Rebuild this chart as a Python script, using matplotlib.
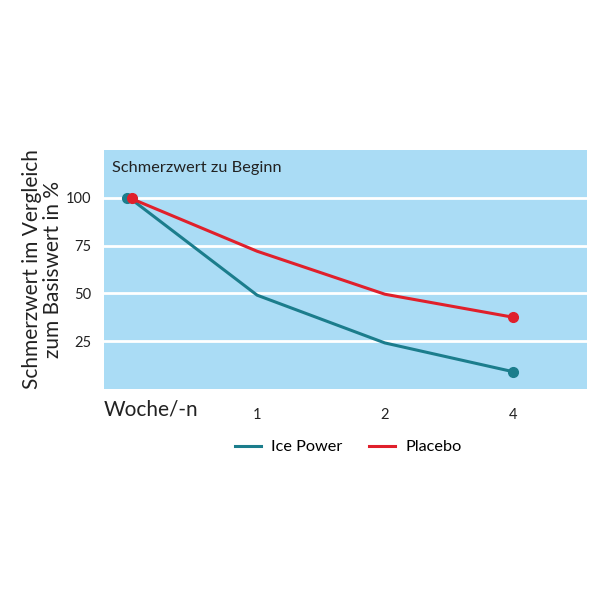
import matplotlib
matplotlib.use("Agg")
import matplotlib.pyplot as plt
import matplotlib.transforms as mtransforms

plt.rcParams["font.family"] = ["Lato", "DejaVu Sans"]

# data
weeks = ["", "1", "2", "4"]
ice_power = [100, 49, 24, 9]
placebo = [100, 72, 49.5, 37.5]
yticks = [25, 50, 75, 100]

BG = "#aadcf5"
BLUE = "#1b7d8c"
RED = "#e0202b"
TEXT = "#222222"

fig = plt.figure(figsize=(6, 6), dpi=100)
ax = fig.add_axes([0.173, 0.352, 0.805, 0.398])
ax.set_facecolor(BG)
for s in ax.spines.values():
    s.set_visible(False)

x = list(range(len(weeks)))
ax.plot(x, ice_power, color=BLUE, lw=2.2, label="Ice Power", zorder=3)
ax.plot(x, placebo, color=RED, lw=2.2, label="Placebo", zorder=4)

# end-point markers; start markers slightly offset like in the original
off_l = ax.transData + mtransforms.ScaledTranslation(-2 / 72, 0, fig.dpi_scale_trans)
off_r = ax.transData + mtransforms.ScaledTranslation(2 / 72, 0, fig.dpi_scale_trans)
ax.plot(x[0], ice_power[0], "o", color=BLUE, ms=7, zorder=5, transform=off_l)
ax.plot(x[0], placebo[0], "o", color=RED, ms=7, zorder=6, transform=off_r)
ax.plot(x[-1], ice_power[-1], "o", color=BLUE, ms=7, zorder=5)
ax.plot(x[-1], placebo[-1], "o", color=RED, ms=7, zorder=6)

ax.set_xlim(-0.2, 3.58)
ax.set_ylim(0, 125)
ax.set_yticks(yticks)
ax.set_yticklabels([str(v) for v in yticks], fontsize=10.5, color=TEXT)
ax.yaxis.grid(True, color="white", lw=2)
ax.set_axisbelow(True)
ax.set_xticks(x)
ax.set_xticklabels(weeks, fontsize=10.5, color=TEXT)
# tick labels sit a bit right of the data points in the original
for lbl in ax.get_xticklabels():
    lbl.set_transform(lbl.get_transform() +
                      mtransforms.ScaledTranslation(5 / 72, 0, fig.dpi_scale_trans))
ax.tick_params(length=0)
ax.tick_params(axis="y", pad=9)
ax.tick_params(axis="x", pad=14)

ax.set_ylabel("Schmerzwert im Vergleich\nzum Basiswert in %", fontsize=15,
              color=TEXT, labelpad=2, linespacing=1.05)

ax.text(0.016, 0.925, "Schmerzwert zu Beginn", transform=ax.transAxes,
        fontsize=11.8, color=TEXT, ha="left", va="center")
fig.text(0.173, 0.317, "Woche/-n", fontsize=15, color=TEXT, ha="left", va="center")

fig.legend(loc="center", bbox_to_anchor=(0.58, 0.255), ncol=2, frameon=False,
           fontsize=11.7, handlelength=1.6, columnspacing=1.6, handletextpad=0.65)

fig.savefig("out.png", dpi=100)
